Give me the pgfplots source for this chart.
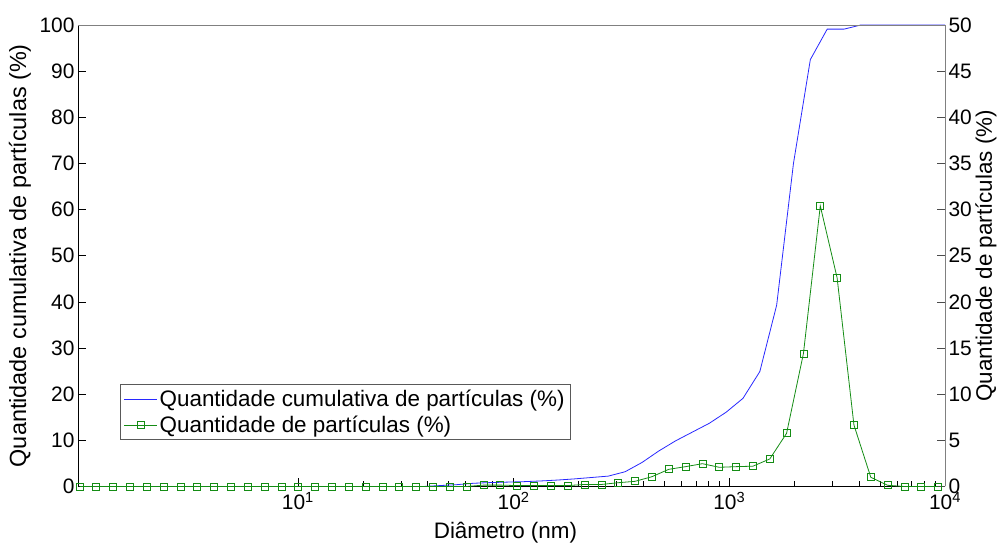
\documentclass[border=0pt]{standalone}
\usepackage{pgfplots}
\pgfplotsset{compat=1.18}
\usepackage{fontspec}
\setmainfont{Liberation Sans}
\definecolor{mblue}{RGB}{40,40,255}
\definecolor{mgreen}{RGB}{20,140,20}
\begin{document}
\begin{tikzpicture}[x=1bp,y=1bp]
\useasboundingbox (0,0) rectangle (1000,545);
\begin{axis}[
  at={(78bp,58.5bp)}, anchor=south west,
  scale only axis, width=867bp, height=461.5bp,
  xmode=log, xmin=0.956, xmax=10000,
  tick align=inside,
  major tick length=8bp, minor tick length=5bp,
  ticklabel style={font=\fontsize{21}{24}\selectfont},
  /pgf/number format/assume math mode=true,
  label style={font=\fontsize{22.5}{26}\selectfont},
  ymin=0, ymax=100,
  axis x line*=bottom, axis y line*=left,
  xtick={10,100,1000,10000},
  xticklabels={10\textsuperscript{1},10\textsuperscript{2},10\textsuperscript{3},10\textsuperscript{4}},
  minor xtick={20,30,40,50,60,70,80,90,200,300,400,500,600,700,800,900,2000,3000,4000,5000,6000,7000,8000,9000},
  ytick={0,10,...,100},
  tick style={black, line width=0.6bp},
  axis line style={black, line width=0.8bp},
  xticklabel style={yshift=-2bp},
  xlabel={Diâmetro (nm)},
  ylabel={Quantidade cumulativa de partículas (\%)},
  xlabel style={at={(axis description cs:0.493,-0.1008)}, anchor=center},
  ylabel style={at={(axis description cs:-0.0669,0.5)}, anchor=center, font=\fontsize{23.5}{26}\selectfont},
  legend style={at={(0.0484,0.2215)}, anchor=north west, draw=gray!70!black,
    fill=white, font=\fontsize{22.5}{27}\selectfont, inner sep=3.5bp,
    row sep=4bp, line width=0.8bp},
  legend cell align=left,
  legend image code/.code={\draw[mark repeat=2,mark phase=2,#1] plot coordinates {(0bp,0bp) (16.5bp,0bp) (33bp,0bp)};},
]
\addplot[mblue, line width=0.8bp] coordinates {
(38.07,0) (45.56,0.2) (54.52,0.4) (65.26,0.7) (78.11,0.85) (93.48,0.95)
(111.8,1.05) (133.9,1.2) (160.3,1.4) (191.8,1.65) (229.6,1.95) (274.8,2.25)
(328.9,3.2) (393.7,5.2) (471.2,7.7) (564.0,9.9) (675.0,11.8) (807.9,13.7)
(966.9,16.1) (1157,19.1) (1385,24.9) (1658,39.3) (1984,70) (2375,92.5)
(2843,99.1) (3403,99.1) (4072,100) (4874,100) (5834,100) (6982,100)
(8357,100) (10000,100)
};
\addlegendentry{Quantidade cumulativa de partículas (\%)}
\addlegendimage{mgreen, line width=0.8bp, mark=square, mark size=3.5bp, mark options={line width=0.8bp}}
\addlegendentry{Quantidade de partículas (\%)}
\end{axis}
\begin{axis}[
  at={(78bp,58.5bp)}, anchor=south west,
  scale only axis, width=867bp, height=461.5bp,
  xmode=log, xmin=0.956, xmax=10000,
  tick align=inside,
  major tick length=8bp,
  ticklabel style={font=\fontsize{21}{24}\selectfont},
  /pgf/number format/assume math mode=true,
  label style={font=\fontsize{22.5}{26}\selectfont},
  ymin=0, ymax=50,
  axis x line*=top, axis y line*=right,
  xtick=\empty, minor xtick={},
  ytick={0,5,...,50},
  tick style={black!70, line width=0.6bp},
  axis line style={gray, line width=0.8bp},
  yticklabel style={black},
  ylabel={Quantidade de partículas (\%)},
  ylabel style={at={(axis description cs:1.0473,0.5)}, anchor=center},
]
\addplot[mgreen, line width=0.8bp, mark=square, mark size=3.5bp, mark options={line width=0.8bp}] coordinates {
(0.9715,0) (1.163,0) (1.392,0) (1.666,0) (1.994,0) (2.386,0) (2.856,0) (3.419,0)
(4.092,0) (4.897,0) (5.861,0) (7.015,0) (8.396,0) (10.05,0) (12.03,0) (14.40,0)
(17.23,0) (20.62,0) (24.68,0) (29.54,0) (35.36,0) (42.32,0) (50.65,0) (60.62,0)
(72.56,0.15) (86.84,0.15) (103.9,0.1) (124.4,0.1) (148.9,0.1) (178.2,0.1)
(213.3,0.22) (255.3,0.22) (305.5,0.41) (365.7,0.56) (437.7,1.06) (523.9,1.86)
(627.0,2.15) (750.5,2.47) (898.2,2.08) (1075,2.15) (1287,2.2) (1540,2.98)
(1843,5.76) (2206,14.4) (2641,30.4) (3161,22.6) (3783,6.66) (4528,1.0)
(5419,0.13) (6486,0) (7763,0) (9290,0)
};
\end{axis}
\end{tikzpicture}
\end{document}
